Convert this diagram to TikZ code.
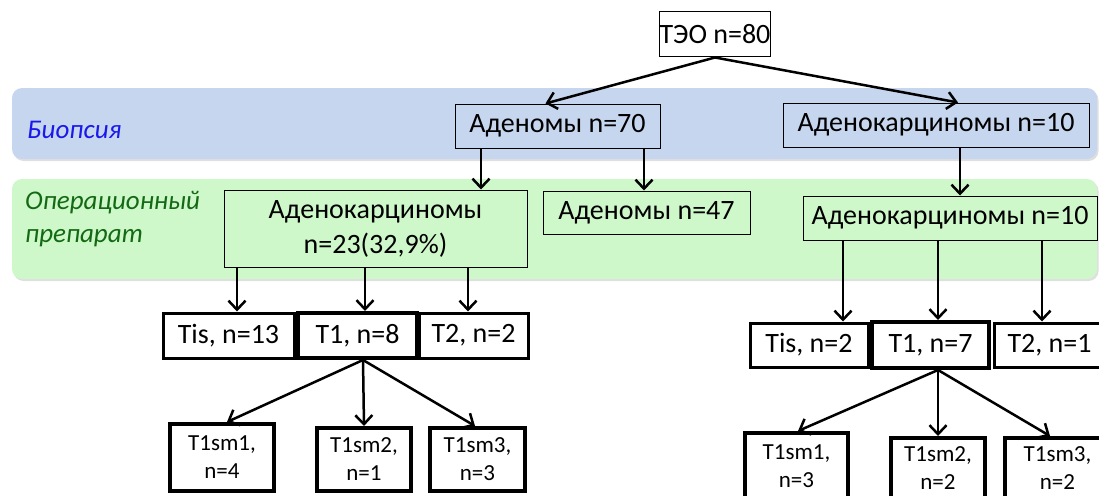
\documentclass[tikz,border=0pt]{standalone}
\usepackage{fontspec}
\setmainfont{Carlito}
\usetikzlibrary{arrows.meta,shadows}
\definecolor{bandblue}{RGB}{198,214,238}
\definecolor{bandgreen}{RGB}{206,248,202}
\definecolor{labblue}{RGB}{25,25,235}
\definecolor{labgreen}{RGB}{20,105,20}
\begin{document}
\begin{tikzpicture}[x=1pt,y=-1pt,
  band/.style={rounded corners=10pt, drop shadow={opacity=0.25, shadow xshift=1.5pt, shadow yshift=-2pt}},
  box/.style={draw, line width=1pt, inner sep=0pt, align=center, font=\fontsize{28}{35}\selectfont},
  tbox/.style={draw, line width=3pt, inner sep=0pt, align=center, font=\fontsize{28}{35}\selectfont},
  tboxb/.style={tbox, line width=4pt},
  smbox/.style={draw, line width=4pt, inner sep=0pt, align=center, font=\fontsize{23}{28}\selectfont},
  arr/.style={line width=2.5pt, -{Straight Barb[length=9pt,width=17pt]}},
  lab/.style={anchor=west, inner sep=0pt, font=\fontsize{27}{32}\selectfont\itshape}
]
\useasboundingbox (0,0) rectangle (1099,495);
\clip (0,0) rectangle (1099,495);
% bands
\fill[bandblue, band] (12,88) rectangle (1097,159);
\fill[bandgreen, band] (12,179) rectangle (1097,279);
% labels
\node[lab, text=labblue] (lbio) at (27,130) {Биопсия};
\node[lab, text=labgreen] (lop1) at (25,203) {Операционный};
\node[lab, text=labgreen] (lop2) at (25,238) {препарат};
% nodes
\node[box, fill=white, minimum width=110pt, minimum height=45pt] (teo) at (715,34.5) {ТЭО n=80};
\node[box, minimum width=205pt, minimum height=44pt] (ad70) at (557.5,126) {Аденомы n=70};
\node[box, minimum width=306pt, minimum height=44pt] (ac10a) at (936,125) {Аденокарциномы n=10};
\node[box, minimum width=303pt, minimum height=77pt] (ac23) at (375.5,228.5) {Аденокарциномы\\n=23(32,9\%)};
\node[box, minimum width=207pt, minimum height=43pt] (ad47) at (646.5,212.5) {Аденомы n=47};
\node[box, minimum width=294pt, minimum height=44pt] (ac10b) at (950,218) {Аденокарциномы n=10};
% left T level
\node[tbox, minimum width=131pt, minimum height=45pt] (tisL) at (228.5,335.5) {Tis, n=13};
\node[tboxb, minimum width=119pt, minimum height=45pt] (t1L) at (357.5,335.5) {T1, n=8};
\node[tbox, minimum width=109pt, minimum height=45pt] (t2L) at (473.5,335.5) {T2, n=2};
\node[smbox, minimum width=104pt, minimum height=67pt] (smL1) at (222,457.5) {T1sm1,\\n=4};
\node[smbox, minimum width=94pt, minimum height=63pt] (smL2) at (364,459.5) {T1sm2,\\n=1};
\node[smbox, minimum width=95pt, minimum height=63pt] (smL3) at (477.5,459.5) {T1sm3,\\n=3};
% right T level
\node[tbox, minimum width=118pt, minimum height=44pt] (tisR) at (809,345) {Tis, n=2};
\node[tboxb, minimum width=117pt, minimum height=46pt] (t1R) at (930.5,345) {T1, n=7};
\node[tbox, minimum width=111pt, minimum height=44pt] (t2R) at (1049.5,345) {T2, n=1};
\node[smbox, minimum width=103pt, minimum height=66pt] (smR1) at (796.5,466) {T1sm1,\\n=3};
\node[smbox, minimum width=94pt, minimum height=60pt] (smR2) at (938,468) {T1sm2,\\n=2};
\node[smbox, minimum width=105pt, minimum height=60pt] (smR3) at (1057.5,468) {T1sm3,\\n=2};
% arrows
\draw[arr] (teo.south) -- ([xshift=-12pt]ad70.north);
\draw[arr] (teo.south) -- ([xshift=22pt]ac10a.north);
\draw[arr] ([xshift=-76.5pt]ad70.south) -- ([xshift=105.5pt]ac23.north);
\draw[arr] ([xshift=86.5pt]ad70.south) -- ([xshift=-2.5pt]ad47.north);
\draw[arr] ([xshift=24pt]ac10a.south) -- ([xshift=10pt]ac10b.north);
\draw[arr] ([xshift=-138.5pt]ac23.south) -- ([xshift=8.5pt]tisL.north);
\draw[arr] ([xshift=-10.5pt]ac23.south) -- ([xshift=7.5pt]t1L.north);
\draw[arr] ([xshift=92.5pt]ac23.south) -- ([xshift=-5.5pt]t2L.north);
\draw[arr] ([xshift=5.5pt]t1L.south) -- ([xshift=5pt]smL1.north);
\draw[arr] ([xshift=5.5pt]t1L.south) -- (smL2.north);
\draw[arr] ([xshift=5.5pt]t1L.south) -- ([xshift=-2.5pt]smL3.north);
\draw[arr] ([xshift=-107pt]ac10b.south) -- ([xshift=34pt]tisR.north);
\draw[arr] ([xshift=-12pt]ac10b.south) -- ([xshift=7.5pt]t1R.north);
\draw[arr] ([xshift=92pt]ac10b.south) -- ([xshift=-7.5pt]t2R.north);
\draw[arr] ([xshift=7.5pt]t1R.south) -- ([xshift=1.5pt]smR1.north);
\draw[arr] ([xshift=7.5pt]t1R.south) -- (smR2.north);
\draw[arr] ([xshift=7.5pt]t1R.south) -- ([xshift=-7.5pt]smR3.north);
\end{tikzpicture}
\end{document}
